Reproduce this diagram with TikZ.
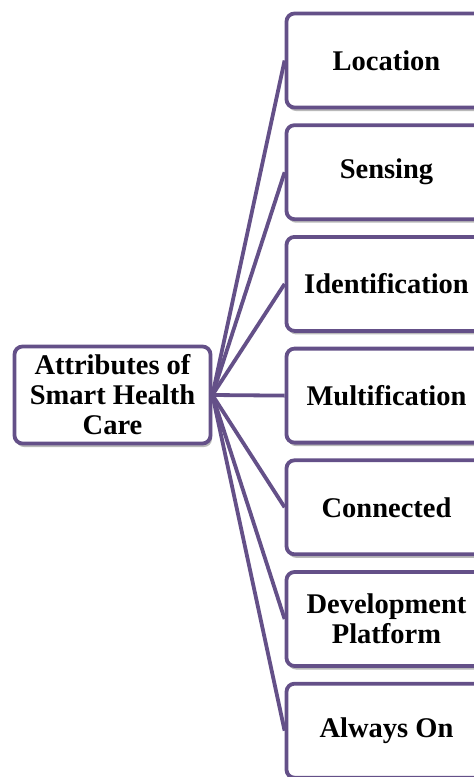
\documentclass[tikz,border=0pt]{standalone}
\usepackage{fontspec}
\setmainfont{Liberation Serif}
\usetikzlibrary{shadows}
\definecolor{pur}{RGB}{100,80,136}
\begin{document}
\begin{tikzpicture}[x=1pt,y=-1pt,
  box/.style={draw=pur, line width=3.8pt, fill=white, rounded corners=8pt,
    align=center, font=\fontsize{28.5}{30}\selectfont\bfseries, inner sep=0pt,
    drop shadow={shadow xshift=1.5pt, shadow yshift=-3.5pt, opacity=0.5, fill=black!55}},
  leaf/.style={box, minimum width=200pt, minimum height=94pt},
  conn/.style={draw=pur, line width=3.8pt}]
\useasboundingbox (0,0) rectangle (474,777);
\begin{scope}
\clip (0,0) rectangle (474,777);
\node[box, minimum width=196pt, minimum height=97pt] (L) at (112.5,395) {Attributes of\\Smart Health\\Care};
\node[leaf] (R1) at (386.5,60.5) {Location};
\node[leaf] (R2) at (386.5,172.2) {Sensing};
\node[leaf] (R3) at (386.5,283.9) {Identification};
\node[leaf] (R4) at (386.5,395.6) {Multification};
\node[leaf] (R5) at (386.5,507.3) {Connected};
\node[leaf] (R6) at (386.5,619) {Development\\Platform};
\node[leaf] (R7) at (386.5,730.7) {Always On};
\foreach \i in {1,...,7} \draw[conn] (L.east) -- (R\i.west);
\end{scope}
\end{tikzpicture}
\end{document}
